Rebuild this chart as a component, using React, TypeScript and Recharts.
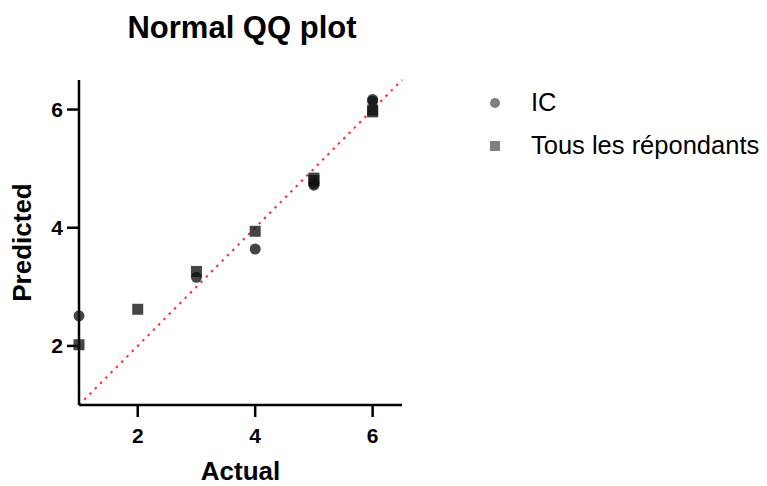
import React from 'react'
import {
  ScatterChart, Scatter, XAxis, YAxis, ReferenceLine, Legend,
} from 'recharts'

// x = actual score, y = predicted (normal quantile)
const icActual = [1, 3, 4, 5, 5, 6, 6]
const icPredicted = [2.51, 3.16, 3.64, 4.72, 4.75, 6.14, 6.17]
const tousActual = [1, 2, 3, 4, 5, 5, 6, 6]
const tousPredicted = [2.02, 2.62, 3.26, 3.94, 4.8, 4.84, 5.96, 5.99]
const axisTicks = [2, 4, 6]
const axisDomain = [1, 6.5]
const seriesNames = ['IC', 'Tous les répondants']

const icData = icActual.map((x, i) => ({ x, y: icPredicted[i] }))
const tousData = tousActual.map((x, i) => ({ x, y: tousPredicted[i] }))

const FONT = 'Arial, "Liberation Sans", sans-serif'
const tickStyle = { fontSize: 21, fontWeight: 700, fill: '#000', fontFamily: FONT }

const CircleDot = ({ cx, cy }: any) => (
  <circle cx={cx} cy={cy} r={5.5} fill="#111" fillOpacity={0.78} />
)
const SquareDot = ({ cx, cy }: any) => (
  <rect x={cx - 5.5} y={cy - 5.5} width={11} height={11} fill="#111" fillOpacity={0.78} />
)

const renderLegend = () => (
  <div style={{ fontFamily: FONT, fontSize: 25.5, color: '#000' }}>
    {seriesNames.map((name, i) => (
      <div key={name} style={{ display: 'flex', alignItems: 'center', height: 43 }}>
        <svg width={20} height={20} style={{ marginRight: 26 }}>
          {i === 0
            ? <circle cx={10} cy={10} r={5} fill="#808080" />
            : <rect x={5} y={5} width={10} height={10} fill="#808080" />}
        </svg>
        <span>{name}</span>
      </div>
    ))}
  </div>
)

const xLabel = ({ viewBox }: any) => (
  <text x={viewBox.x + viewBox.width / 2} y={viewBox.y + 75} textAnchor="middle"
    style={{ fontSize: 26, fontWeight: 700, fontFamily: FONT }} fill="#000">Actual</text>
)

const yLabel = ({ viewBox }: any) => {
  const cx = viewBox.x + 12
  const cy = viewBox.y + viewBox.height / 2
  return (
    <text x={cx} y={cy} textAnchor="middle" transform={`rotate(-90, ${cx}, ${cy})`}
      style={{ fontSize: 26, fontWeight: 700, fontFamily: FONT }} fill="#000">Predicted</text>
  )
}

export default function App() {
  return (
    <div style={{ position: 'absolute', left: 0, top: 0, width: 767, height: 486, background: '#fff' }}>
      <div style={{
        position: 'absolute', left: 0, width: 484, top: 10, textAlign: 'center',
        fontFamily: FONT, fontSize: 31, fontWeight: 700, color: '#000',
      }}>
        Normal QQ plot
      </div>
      <ScatterChart width={767} height={486} margin={{ top: 80, right: 365, bottom: 31, left: 19 }}>
        <XAxis
          type="number" dataKey="x" domain={axisDomain} ticks={axisTicks}
          height={50} tickSize={12} tickMargin={11}
          axisLine={{ stroke: '#000', strokeWidth: 2.5 }}
          tickLine={{ stroke: '#000', strokeWidth: 2.5 }}
          tick={tickStyle} label={xLabel}
        />
        <YAxis
          type="number" dataKey="y" domain={axisDomain} ticks={axisTicks}
          width={60} tickSize={12} tickMargin={4}
          axisLine={{ stroke: '#000', strokeWidth: 2.5 }}
          tickLine={{ stroke: '#000', strokeWidth: 2.5 }}
          tick={tickStyle} label={yLabel}
        />
        <ReferenceLine
          segment={[{ x: axisDomain[0], y: axisDomain[0] }, { x: axisDomain[1], y: axisDomain[1] }]}
          stroke="#ff2a2a" strokeWidth={2} strokeDasharray="2.5 5"
        />
        <Scatter name={seriesNames[0]} data={icData} shape={CircleDot} isAnimationActive={false} />
        <Scatter name={seriesNames[1]} data={tousData} shape={SquareDot} isAnimationActive={false} />
        <Legend
          layout="vertical" align="center" verticalAlign="middle"
          wrapperStyle={{ left: 485, top: 81, width: 282 }}
          content={renderLegend}
        />
      </ScatterChart>
    </div>
  )
}
